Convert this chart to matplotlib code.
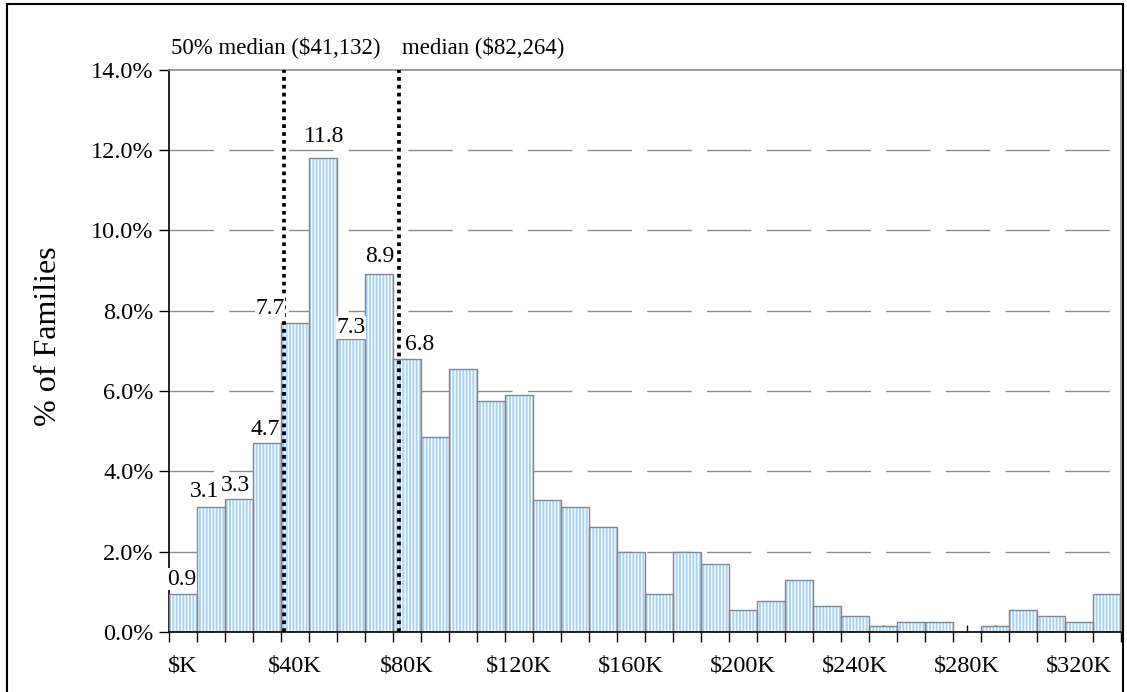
import matplotlib
matplotlib.use("Agg")
import matplotlib.pyplot as plt
import numpy as np
from matplotlib.patches import Rectangle
from matplotlib.ticker import FixedLocator, FuncFormatter

plt.rcParams['font.family'] = ['Liberation Serif', 'DejaVu Serif']

# ---- data ----
categories = ['$K', '$10K', '$20K', '$30K', '$40K', '$50K', '$60K', '$70K', '$80K', '$90K',
              '$100K', '$110K', '$120K', '$130K', '$140K', '$150K', '$160K', '$170K', '$180K', '$190K',
              '$200K', '$210K', '$220K', '$230K', '$240K', '$250K', '$260K', '$270K', '$280K', '$290K',
              '$300K', '$310K', '$320K', '$330K']
pct_families = [0.94, 3.1, 3.3, 4.7, 7.7, 11.8, 7.3, 8.9, 6.8, 4.86,
                6.55, 5.75, 5.9, 3.29, 3.11, 2.62, 1.98, 0.94, 1.98, 1.69,
                0.54, 0.78, 1.29, 0.64, 0.39, 0.14, 0.24, 0.24, 0.0, 0.14,
                0.54, 0.39, 0.24, 0.94]
label_values = [0.9, 3.1, 3.3, 4.7, 7.7, 11.8, 7.3, 8.9, 6.8]
median_income = 82264
half_median_income = 41132
bin_width_dollars = 10000
y_ticks = [0, 2, 4, 6, 8, 10, 12, 14]

# label offsets (px) for the data labels
label_dx = [-1, -6, -3, -2, -25, 1, 0, 1, 13]
label_dy = [15, 16, 14, 14, 14, 21, 11, 18, 14]

W, H = 1127, 692
fig = plt.figure(figsize=(W / 100, H / 100), dpi=100)
ax = fig.add_axes([169 / W, 1 - 632 / H, (1121 - 169) / W, (632 - 69.5) / H])

n = len(categories)
x = np.arange(n) + 0.5

# gridlines (dashed)
for yv in y_ticks[1:-1]:
    ax.axhline(yv, color='#8c8c8c', lw=1.0, linestyle=(0, (32, 11)), zorder=1)

# bars: striped fill + gray outline
ax.bar(x, pct_families, width=1.0, color='#a6d1fb', edgecolor='white', linewidth=0,
       hatch='|||||', zorder=2)
ax.bar(x, pct_families, width=1.0, color='none', edgecolor='#858585', linewidth=1.0, zorder=3)

# median lines
for v in (half_median_income, median_income):
    ax.plot([v / bin_width_dollars] * 2, [0, 14], color='black', lw=2.7,
            linestyle=(0, (1.0, 1.1)), solid_capstyle='butt', dash_capstyle='butt',
            zorder=5, clip_on=False)

# data labels
for i, v in enumerate(label_values):
    ax.annotate(f'{v:.1f}', xy=(x[i], pct_families[i]), xytext=(label_dx[i] * 0.72, label_dy[i] * 0.72),
                textcoords='offset points', ha='center', va='center', fontsize=17,
                bbox=dict(fc='white', ec='none', pad=0.5), zorder=6)

# top annotations
ax.text(0.07, 1.04, f'50% median (${half_median_income:,})', transform=ax.get_xaxis_transform(),
        ha='left', va='center', fontsize=16.5)
ax.text(8.32, 1.04, f'median (${median_income:,})', transform=ax.get_xaxis_transform(),
        ha='left', va='center', fontsize=16.5)

ax.set_xlim(0, n)
ax.set_ylim(0, 14)

# y axis
ax.set_yticks(y_ticks)
ax.yaxis.set_major_formatter(FuncFormatter(lambda v, p: f'{v:.1f}%'))
ax.tick_params(axis='y', direction='out', length=7, width=1, labelsize=17.5, pad=4)
ax.set_ylabel('% of Families', fontsize=23)
ax.yaxis.set_label_coords(-0.111, 0.526)

# x axis: major ticks at bin boundaries (out), minor at bin centres (in)
ax.xaxis.set_major_locator(FixedLocator(np.arange(n + 1)))
ax.xaxis.set_major_formatter(FuncFormatter(lambda v, p: ''))
ax.set_xticks(x, minor=True)
ax.set_xticklabels([c if i % 4 == 0 else '' for i, c in enumerate(categories)], minor=True)
ax.tick_params(axis='x', which='major', direction='out', length=7, width=1)
ax.tick_params(axis='x', which='minor', direction='in', length=5, width=1, labelsize=17.5, pad=17)

for s in ('left', 'bottom'):
    ax.spines[s].set_color('black')
    ax.spines[s].set_linewidth(1.2)
for s in ('top', 'right'):
    ax.spines[s].set_color('#8c8c8c')
    ax.spines[s].set_linewidth(1.2)
ax.spines['bottom'].set_zorder(7)

# outer border
fig.patches.append(Rectangle((7 / W, -0.02), (1123 - 7) / W, 1.02 - 4 / H, transform=fig.transFigure,
                             fill=False, edgecolor='black', lw=1.5))

fig.savefig('out.png', dpi=100)
